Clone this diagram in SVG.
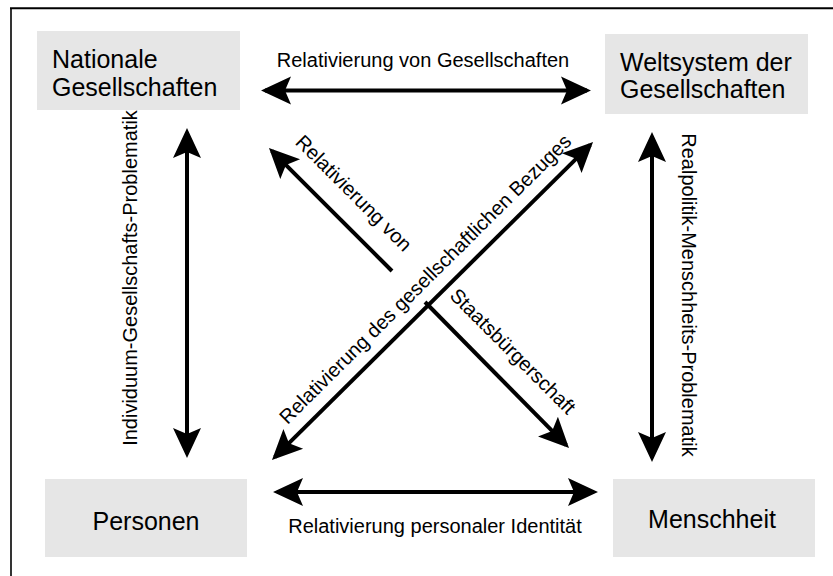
<svg xmlns="http://www.w3.org/2000/svg" width="833" height="576" viewBox="0 0 833 576">
<style>
.box{fill:#e6e6e6;}
.nt{font-family:"Liberation Sans",Arial,sans-serif;font-size:25px;fill:#000;}
.lb{font-family:"Liberation Sans",Arial,sans-serif;font-size:20px;fill:#000;}
.ar{stroke:#000;stroke-width:4;fill:none;}
</style>
<defs>
<marker id="ah" markerUnits="userSpaceOnUse" markerWidth="32" markerHeight="30" viewBox="0 0 32 30" refX="26" refY="15" orient="auto-start-reverse">
<path d="M30,15 L0,1 L6,15 L0,29 Z" fill="#000"/>
</marker>
</defs>
<rect x="0" y="0" width="833" height="576" fill="#fff"/>
<g id="frame">
<line x1="10" y1="8.3" x2="833" y2="8.3" stroke="#000" stroke-width="2"/>
<line x1="11" y1="8" x2="11" y2="576" stroke="#000" stroke-width="1.6"/>
</g>
<g id="nationale">
<rect class="box" x="37" y="31" width="203" height="79"/>
<text class="nt" x="52" y="68">Nationale</text>
<text class="nt" x="52" y="96">Gesellschaften</text>
</g>
<g id="weltsystem">
<rect class="box" x="605" y="34" width="203" height="80"/>
<text class="nt" x="620" y="70.5">Weltsystem der</text>
<text class="nt" x="620" y="98">Gesellschaften</text>
</g>
<g id="personen">
<rect class="box" x="45" y="479" width="202" height="78"/>
<text class="nt" x="146" y="530" text-anchor="middle">Personen</text>
</g>
<g id="menschheit">
<rect class="box" x="613" y="479" width="202" height="78"/>
<text class="nt" x="712" y="528" text-anchor="middle">Menschheit</text>
</g>
<g id="connectors">
<line class="ar" x1="265" y1="90.5" x2="587" y2="90.5" marker-start="url(#ah)" marker-end="url(#ah)"/>
<line class="ar" x1="277" y1="492" x2="594" y2="492" marker-start="url(#ah)" marker-end="url(#ah)"/>
<line class="ar" x1="187" y1="132" x2="187" y2="454" marker-start="url(#ah)" marker-end="url(#ah)"/>
<line class="ar" x1="652" y1="136" x2="652" y2="458" marker-start="url(#ah)" marker-end="url(#ah)"/>
<line class="ar" x1="274.8" y1="457.2" x2="590.2" y2="144.8" marker-start="url(#ah)" marker-end="url(#ah)"/>
<line class="ar" x1="392" y1="271" x2="271.8" y2="150.8" marker-end="url(#ah)"/>
<line class="ar" x1="425" y1="302" x2="566.2" y2="445.2" marker-end="url(#ah)"/>
</g>
<g id="labels">
<text class="lb" x="423" y="67" text-anchor="middle">Relativierung von Gesellschaften</text>
<text class="lb" x="435" y="533" text-anchor="middle">Relativierung personaler Identität</text>
<text class="lb" transform="translate(137,278) rotate(-90)" text-anchor="middle">Individuum-Gesellschafts-Problematik</text>
<text class="lb" transform="translate(682,295) rotate(90)" text-anchor="middle">Realpolitik-Menschheits-Problematik</text>
<text class="lb" transform="translate(349,198) rotate(45)" text-anchor="middle">Relativierung von</text>
<text class="lb" transform="translate(508,356) rotate(45)" text-anchor="middle">Staatsbürgerschaft</text>
<text class="lb" transform="translate(430,284) rotate(-44.73)" text-anchor="middle">Relativierung des gesellschaftlichen Bezuges</text>
</g>
</svg>
